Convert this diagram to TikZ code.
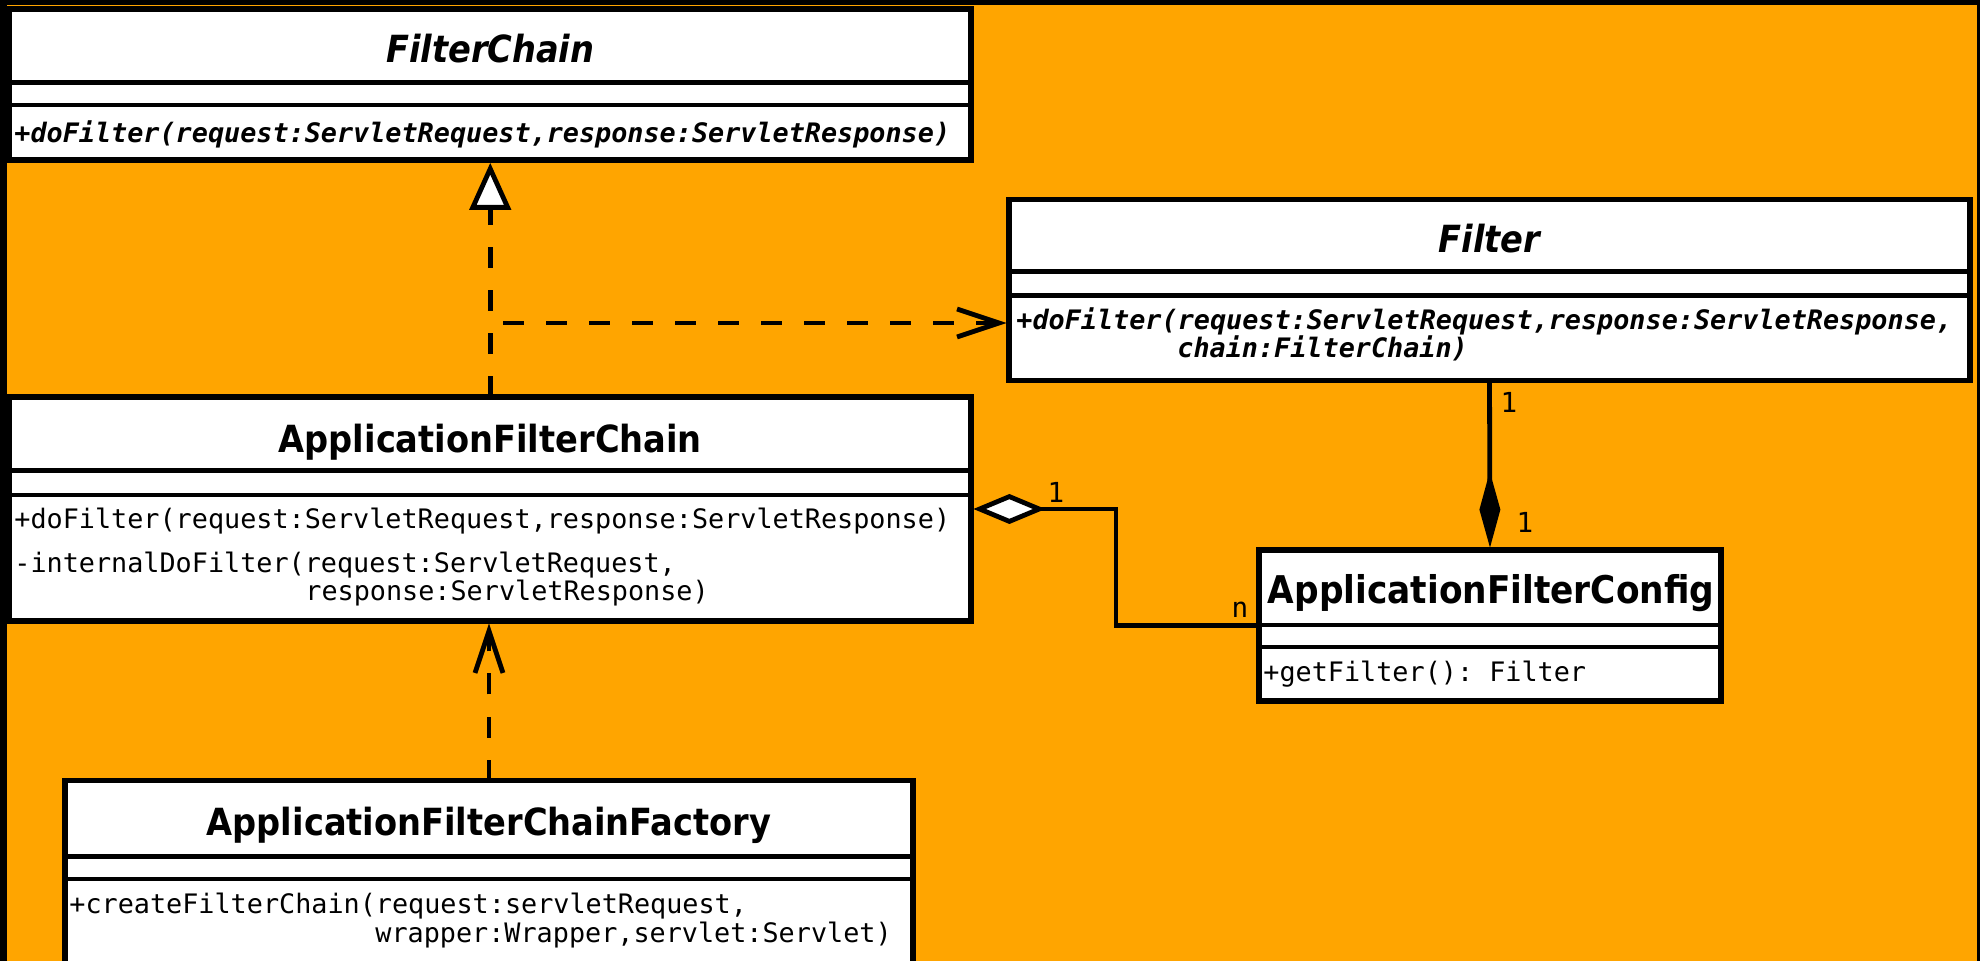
\documentclass[tikz,border=0pt]{standalone}
\usepackage{fontspec}
\setmonofont{DejaVu Sans Mono}
\newfontfamily\titlefont{DejaVu Sans}[FakeStretch=0.9]
\usetikzlibrary{arrows.meta}
\definecolor{bgorange}{RGB}{255,165,0}
\begin{document}
\begin{tikzpicture}[x=0.5pt,y=-0.5pt,
  classbox/.style={draw=black, fill=white, line width=2.6pt, inner sep=0pt, outer sep=0pt},
  sepline/.style={line width=2.4pt},
  ttl/.style={font=\titlefont\fontsize{18.7}{22}\selectfont\bfseries, anchor=base, inner sep=0pt},
  ttli/.style={font=\titlefont\fontsize{18.7}{22}\selectfont\bfseries\itshape, anchor=base, inner sep=0pt},
  mth/.style={font=\ttfamily\fontsize{13.4}{16}\selectfont, anchor=base west, inner sep=0pt},
  mthi/.style={font=\ttfamily\fontsize{13.4}{16}\selectfont\bfseries\itshape, anchor=base west, inner sep=0pt},
  mult/.style={font=\ttfamily\fontsize{13.8}{16}\selectfont, anchor=base, inner sep=0pt},
  conn/.style={line width=2.4pt},
  dashedline/.style={dash pattern=on 10.5pt off 11pt},
  realize/.style={conn, dashedline, -{Triangle[length=23.5pt, width=20.5pt, fill=white]}, shorten >=1.4pt},
  depend/.style={conn, dashedline, -{Straight Barb[length=21pt, width=14pt]}, shorten >=1.2pt},
  aggr/.style={conn, {Diamond[length=36pt, width=15pt, fill=white]}-, shorten <=1.2pt},
  compo/.style={conn, -{Diamond[length=38pt, width=10.5pt, fill=black]}, shorten >=1.2pt}
]
\useasboundingbox (0,0) rectangle (1980,961);
\clip (0,0) rectangle (1980,961);
\fill[black] (0,0) rectangle (1980,961);
\fill[bgorange] (7,5) rectangle (1977,961);

% class boxes
\node[classbox, minimum width=480.75pt, minimum height=75.5pt] (fc) at (490.25,84.5) {};
\node[classbox, minimum width=480.5pt, minimum height=90.5pt] (filter) at (1489.5,290) {};
\node[classbox, minimum width=480.75pt, minimum height=112pt] (afc) at (490.25,509) {};
\node[classbox, minimum width=231pt, minimum height=75.5pt] (afconfig) at (1490,625.5) {};
\node[classbox, minimum width=424pt, minimum height=104.75pt] (factory) at (489,885.25) {};

% compartments
\draw[sepline] (fc.west |- 0,82.5) -- (fc.east |- 0,82.5);
\draw[sepline] (fc.west |- 0,105) -- (fc.east |- 0,105);
\draw[sepline] (filter.west |- 0,271.5) -- (filter.east |- 0,271.5);
\draw[sepline] (filter.west |- 0,295.5) -- (filter.east |- 0,295.5);
\draw[sepline] (afc.west |- 0,470.5) -- (afc.east |- 0,470.5);
\draw[sepline] (afc.west |- 0,495) -- (afc.east |- 0,495);
\draw[sepline] (afconfig.west |- 0,625) -- (afconfig.east |- 0,625);
\draw[sepline] (afconfig.west |- 0,647) -- (afconfig.east |- 0,647);
\draw[sepline] (factory.west |- 0,856.5) -- (factory.east |- 0,856.5);
\draw[sepline] (factory.west |- 0,879) -- (factory.east |- 0,879);

% texts
\node[ttli] (fctitle) at (490.25,63) {FilterChain};
\node[mthi] (fcm) at (14,143) {+doFilter(request:ServletRequest,response:ServletResponse)};
\node[ttli] (filtertitle) at (1489.5,253) {Filter};
\node[mthi] (filterm1) at (1016,330) {+doFilter(request:ServletRequest,response:ServletResponse,};
\node[mthi] (filterm2) at (1177,358) {chain:FilterChain)};
\node[ttl] (afctitle) at (490.25,453) {ApplicationFilterChain};
\node[mth] (afcm1) at (14,529) {+doFilter(request:ServletRequest,response:ServletResponse)};
\node[mth] (afcm2) at (14,573) {-internalDoFilter(request:ServletRequest,};
\node[mth] (afcm3) at (305,601) {response:ServletResponse)};
\node[ttl, font=\titlefont\fontsize{19.1}{22}\selectfont\bfseries] (afconfigtitle) at (1491,604) {ApplicationFilterConfig};
\node[mth] (afconfigm) at (1263,682) {+getFilter(): Filter};
\node[ttl] (factorytitle) at (489,835) {ApplicationFilterChainFactory};
\node[mth] (factorym1) at (69,913) {+createFilterChain(request:servletRequest,};
\node[mth] (factorym2) at (375,942) {wrapper:Wrapper,servlet:Servlet)};

% connectors
\draw[realize] (afc.north) -- (fc.south);
\coordinate (dep1) at (503,323);
\draw[depend] (dep1) -- (dep1 -| filter.west);
\draw[depend] (factory.north) -- (factory.north |- afc.south);
\coordinate (aggx) at (1116,0);
\draw[aggr] (afc.east) -| (aggx |- afconfig.west) -- (afconfig.west);
\draw[compo] (filter.south) -- (afconfig.north);

% multiplicities
\node[mult] (m1) at (1056,503) {1};
\node[mult] (m2) at (1240,618) {n};
\node[mult] (m3) at (1509,413) {1};
\node[mult] (m4) at (1525,533) {1};
\end{tikzpicture}
\end{document}
